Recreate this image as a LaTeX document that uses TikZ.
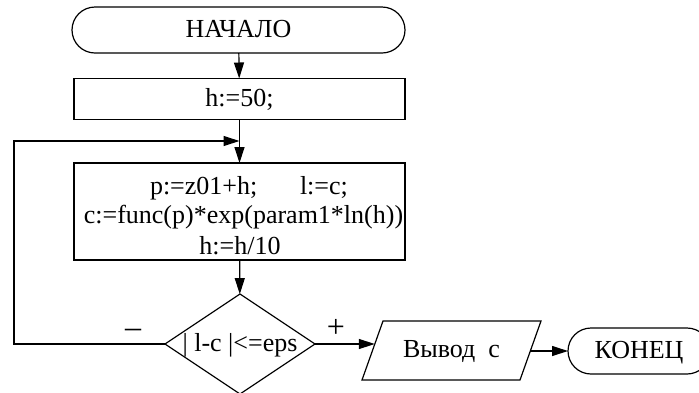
\documentclass[tikz,border=0pt]{standalone}
\usepackage{fontspec}
\setmainfont{Liberation Serif}
\usetikzlibrary{arrows.meta,shapes.geometric,calc}

\tikzset{
  line/.style={line width=1.2pt},
  arr/.style={line, -{Triangle[length=16pt,width=10pt]}},
  txt/.style={inner sep=0pt, outer sep=0pt, text height=18.5pt, text depth=4.5pt},
  term/.style={txt, draw, line, rounded corners=23pt, minimum height=46pt},
  procbox/.style={txt, draw, line, minimum width=331pt},
  decision/.style={txt, draw, line, shape=diamond, aspect=1.5,
    minimum width=150pt, minimum height=100pt},
  branch/.style={inner sep=0pt, outer sep=0pt, font=\fontsize{32}{36}\selectfont},
}

\begin{document}
\begin{tikzpicture}[x=1pt, y=-1pt, font=\fontsize{26}{31}\selectfont]
  \useasboundingbox (0,0) rectangle (699,392);
  \clip (0,0) rectangle (699,392);

  % blocks
  \node[term, minimum width=333pt] (start) at (238.5,30) {НАЧАЛО};
  \node[procbox, minimum height=41pt] (init) at (239.5,99) {h:=50;};
  \node[procbox, minimum height=97pt] (body) at (239.5,211.5) {};
  \node[txt, anchor=base west] (l1a) at (150,194) {p:=z01+h;};
  \node[txt, anchor=base west] (l1b) at (300,194) {l:=c;};
  \node[txt, anchor=base] (l2) at (243.5,223) {c:=func(p)*exp(param1*ln(h))};
  \node[txt, anchor=base] (l3) at (240,254) {h:=h/10};
  \node[decision] (cond) at (240,344) {| l-c |<=eps};

  % output block (parallelogram)
  \node[txt] (out) at (451.5,350.5) {Вывод\ \ с};
  \draw[line] ($(out.center)+(-89.5,29.5)$) -- ($(out.center)+(-68.5,-29.5)$)
    -- ($(out.center)+(89.5,-29.5)$) -- ($(out.center)+(68.5,29.5)$) -- cycle;
  \coordinate (outL) at ($(out.center)+(-76.7,-6.5)$);
  \coordinate (outR) at ($(out.center)+(78.8,0.5)$);

  \node[term, minimum width=142pt] (stop) at (639,351) {КОНЕЦ};

  % loop corners
  \coordinate (join) at (239.5,141);
  \coordinate (lb) at (14,344);
  \coordinate (lt) at (14,141);

  % connectors
  \draw[arr] (start) -- (init);
  \draw[arr] (init) -- (body);
  \draw[arr] (body) -- (cond);
  \draw[arr] (cond.west) -- (lb) -- (lt) -- (join);
  \draw[arr] (cond.east) -- (outL);
  \draw[arr] (outR) -- (stop.west);

  % branch labels
  \node[branch] (minus) at (133,333) {–};
  \node[branch] (plus) at (336,328) {+};
\end{tikzpicture}
\end{document}
